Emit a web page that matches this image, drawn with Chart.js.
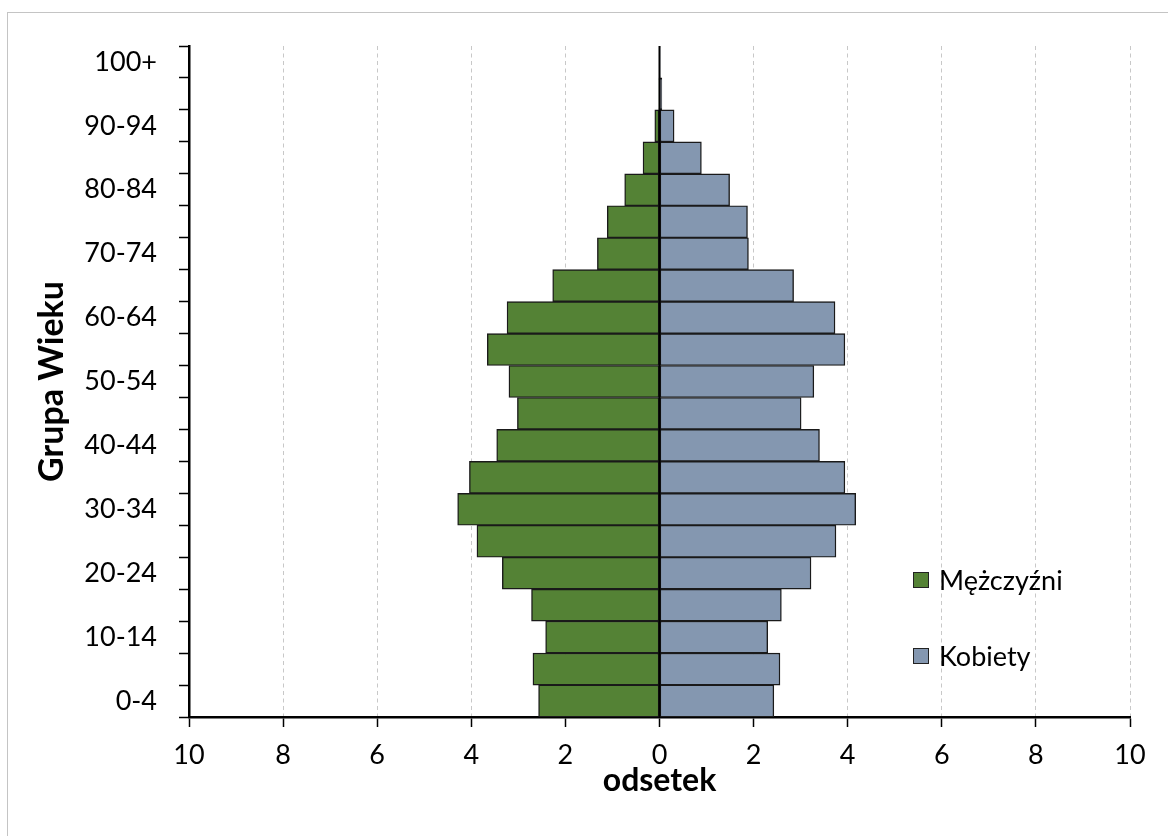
<!DOCTYPE html>
<html lang="pl">
<head>
<meta charset="utf-8">
<title>Piramida wieku</title>
<script src="https://cdn.jsdelivr.net/npm/chart.js@4.4.1/dist/chart.umd.min.js"></script>
<style>
  html, body { margin: 0; padding: 0; background: #fff; }
  #wrap { position: relative; width: 1168px; height: 836px; overflow: hidden; font-family: Lato, "Open Sans", sans-serif; }
  #frame { position: absolute; left: 7px; top: 12px; width: 1200px; height: 900px; border: 1px solid #c4c4c4; box-sizing: border-box; }
  #chart { position: absolute; left: 0; top: 0; }
  .legend-item { position: absolute; left: 913px; display: flex; align-items: center; font-size: 27px; color: #000; }
  .legend-item .sw { width: 16px; height: 16px; box-sizing: border-box; border: 1px solid #222; margin-right: 10px; }
</style>
</head>
<body>
<div id="wrap">
  <div id="frame"></div>
  <canvas id="chart" width="1168" height="836"></canvas>
  <div class="legend-item" style="top:563px"><span class="sw" style="background:#548235"></span>Mężczyźni</div>
  <div class="legend-item" style="top:639px"><span class="sw" style="background:#8497B0"></span>Kobiety</div>
</div>
<script>
// Age groups, youngest first
const ageGroups = ['0-4','5-9','10-14','15-19','20-24','25-29','30-34','35-39','40-44','45-49',
                   '50-54','55-59','60-64','65-69','70-74','75-79','80-84','85-89','90-94','95-99','100+'];

// Share of population (%) per age group
const men   = [2.57, 2.69, 2.42, 2.72, 3.34, 3.88, 4.29, 4.04, 3.46, 3.02,
               3.20, 3.66, 3.24, 2.27, 1.32, 1.11, 0.74, 0.35, 0.10, 0.01, 0.00];
const women = [2.43, 2.56, 2.30, 2.59, 3.22, 3.75, 4.17, 3.94, 3.40, 3.01,
               3.28, 3.94, 3.73, 2.85, 1.89, 1.87, 1.49, 0.89, 0.31, 0.05, 0.01];

// Horizontal axis ticks (both sides shown as positive numbers)
const xTicks = [-10, -8, -6, -4, -2, 0, 2, 4, 6, 8, 10];

const FONT = 'Lato';

// Vertical line at zero separating the two halves of the pyramid
const zeroLine = {
  id: 'zeroLine',
  afterDatasetsDraw(chart) {
    const { ctx, chartArea, scales } = chart;
    const x0 = scales.x.getPixelForValue(0);
    ctx.save();
    ctx.strokeStyle = '#000';
    ctx.lineWidth = 2;
    ctx.beginPath();
    ctx.moveTo(x0, chartArea.top);
    ctx.lineTo(x0, chartArea.bottom);
    ctx.stroke();
    ctx.restore();
  }
};

new Chart(document.getElementById('chart'), {
  type: 'bar',
  data: {
    labels: ageGroups,
    datasets: [
      {
        label: 'Mężczyźni',
        data: men.map(v => -v),
        backgroundColor: '#548235',
        borderColor: '#1a1a1a',
        borderWidth: 1.4,
        borderSkipped: false,
        categoryPercentage: 1,
        barPercentage: 1
      },
      {
        label: 'Kobiety',
        data: women,
        backgroundColor: '#8497B0',
        borderColor: '#1a1a1a',
        borderWidth: 1.4,
        borderSkipped: false,
        categoryPercentage: 1,
        barPercentage: 1
      }
    ]
  },
  options: {
    indexAxis: 'y',
    responsive: false,
    animation: false,
    layout: { padding: { left: 0, top: 46, right: 38, bottom: 0 } },
    plugins: {
      legend: { display: false },
      tooltip: { enabled: false }
    },
    scales: {
      x: {
        stacked: true,
        min: -10,
        max: 10,
        afterBuildTicks(scale) { scale.ticks = xTicks.map(v => ({ value: v })); },
        afterFit(scale) { scale.height = 119; },
        ticks: {
          callback: v => Math.abs(v),
          font: { family: FONT, size: 27 },
          color: '#000',
          padding: 12,
          maxRotation: 0
        },
        grid: {
          color: '#c8c8c8',
          lineWidth: 1,
          tickColor: '#000',
          tickLength: 10,
          tickWidth: 1.5,
          tickBorderDash: []
        },
        border: { display: true, color: '#000', width: 2.5, dash: [4, 3.5] },
        title: {
          display: true,
          text: 'odsetek',
          font: { family: FONT, size: 32, weight: 'bold' },
          color: '#000',
          padding: { top: 0, bottom: 36 }
        }
      },
      y: {
        stacked: true,
        reverse: true,
        offset: true,
        afterFit(scale) { scale.width = 189; },
        ticks: {
          autoSkip: false,
          callback: (v, i) => (i % 2 === 0 ? ageGroups[i] : ''),
          font: { family: FONT, size: 27 },
          color: '#000',
          padding: 22
        },
        grid: {
          offset: true,
          drawOnChartArea: false,
          drawTicks: true,
          tickLength: 10,
          tickColor: '#000',
          tickWidth: 1.5
        },
        border: { display: true, color: '#000', width: 2.5 },
        title: {
          display: true,
          text: 'Grupa Wieku',
          font: { family: FONT, size: 34, weight: 'bold' },
          color: '#000',
          padding: { top: 32, bottom: 0 }
        }
      }
    }
  },
  plugins: [zeroLine]
});
</script>
</body>
</html>
